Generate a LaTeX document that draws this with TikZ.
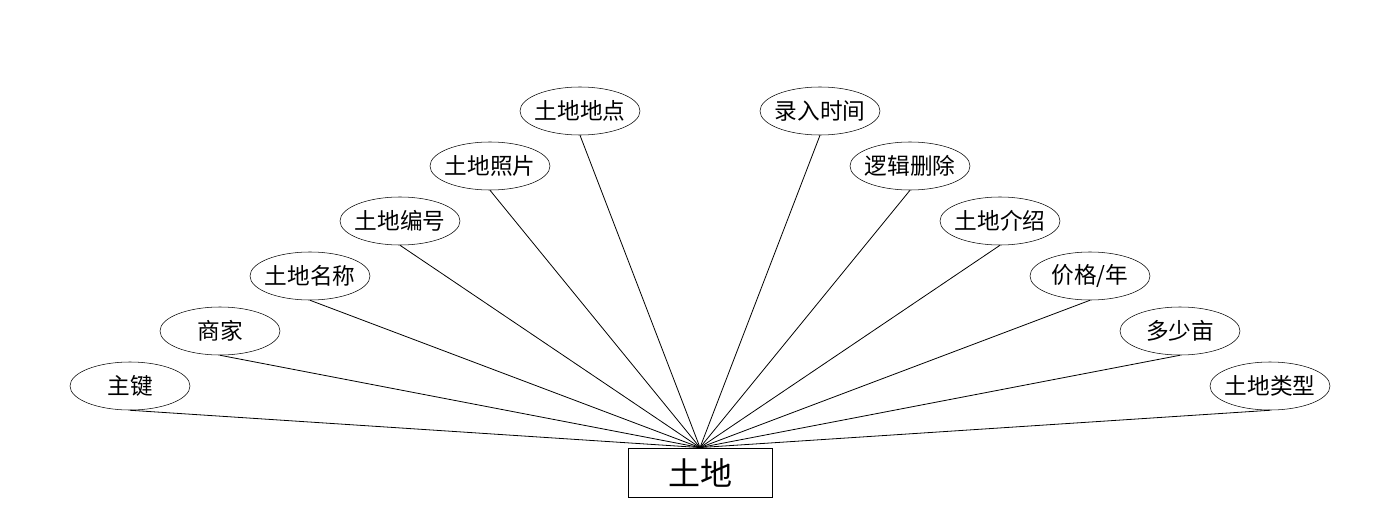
\documentclass[tikz,border=0pt]{standalone}
\usepackage{fontspec}
\newfontfamily\cjk{Noto Sans CJK SC}
\usetikzlibrary{shapes.geometric}

\begin{document}
\begin{tikzpicture}[
    x=0.75pt, y=-0.75pt,
    attr/.style={draw, ellipse, minimum width=90pt, minimum height=36pt, inner xsep=-5pt, inner ysep=0pt, font=\cjk\fontsize{17}{20}\selectfont},
    entity/.style={draw, rectangle, minimum width=108pt, minimum height=37pt, inner sep=0pt, font=\cjk\fontsize{24}{28}\selectfont},
    link/.style={line width=0.6pt}
]
\useasboundingbox (0,0) rectangle (1400,528);
\node[entity] (land) at (700,472.5) {土地};
% left side
\node[attr] (pk) at (130,386) {主键};
\node[attr] (merchant) at (220,331) {商家};
\node[attr] (name) at (310,276) {土地名称};
\node[attr] (code) at (400,221) {土地编号};
\node[attr] (photo) at (490,166) {土地照片};
\node[attr] (place) at (580,111) {土地地点};
% right side
\node[attr] (time) at (820,111) {录入时间};
\node[attr] (deleted) at (910,166) {逻辑删除};
\node[attr] (intro) at (1000,221) {土地介绍};
\node[attr] (price) at (1090,276) {价格/年};
\node[attr] (area) at (1180,331) {多少亩};
\node[attr] (type) at (1270,386) {土地类型};
\draw[link] (pk.south) -- (land.north);
\draw[link] (merchant.south) -- (land.north);
\draw[link] (name.south) -- (land.north);
\draw[link] (code.south) -- (land.north);
\draw[link] (photo.south) -- (land.north);
\draw[link] (place.south) -- (land.north);
\draw[link] (time.south) -- (land.north);
\draw[link] (deleted.south) -- (land.north);
\draw[link] (intro.south) -- (land.north);
\draw[link] (price.south) -- (land.north);
\draw[link] (area.south) -- (land.north);
\draw[link] (type.south) -- (land.north);
\end{tikzpicture}
\end{document}
